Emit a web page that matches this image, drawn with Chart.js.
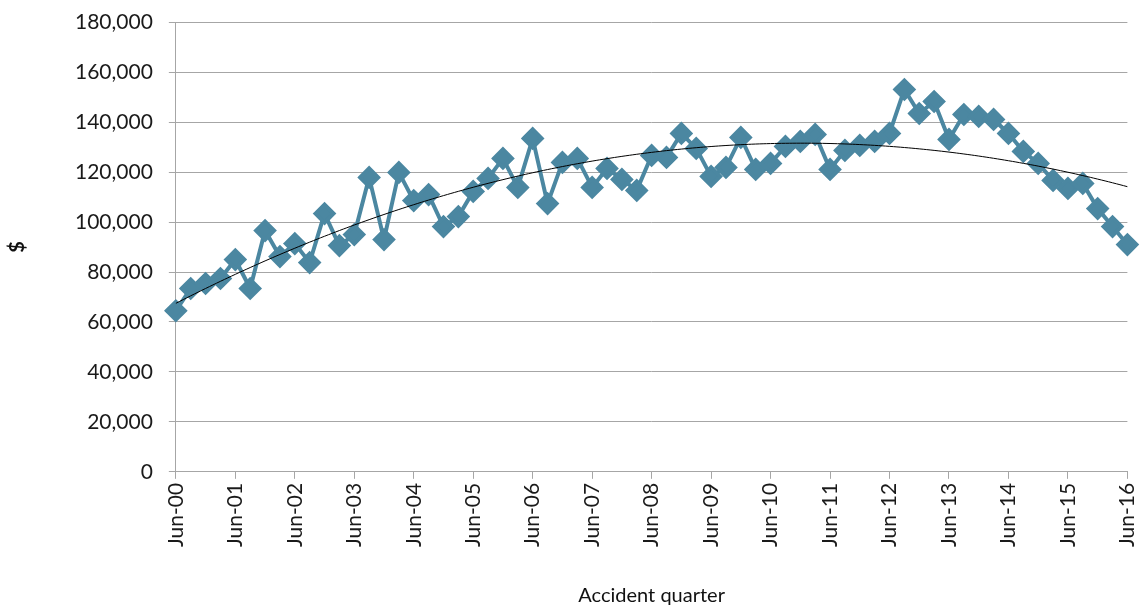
<!DOCTYPE html>
<html>
<head>
<meta charset="utf-8">
<script src="https://cdn.jsdelivr.net/npm/chart.js@4.4.0/dist/chart.umd.min.js"></script>
<style>
    html, body { margin: 0; padding: 0; background: #ffffff; }
    #wrap { width: 1144px; height: 610px; }
</style>
</head>
<body>
<div id="wrap"><canvas id="avg_claim"></canvas></div>
<script>
// quarters Jun-00 .. Jun-16
const quarters = [
    'Jun-00', 'Sep-00', 'Dec-00', 'Mar-01', 'Jun-01', 'Sep-01', 'Dec-01', 'Mar-02',
    'Jun-02', 'Sep-02', 'Dec-02', 'Mar-03', 'Jun-03', 'Sep-03', 'Dec-03', 'Mar-04',
    'Jun-04', 'Sep-04', 'Dec-04', 'Mar-05', 'Jun-05', 'Sep-05', 'Dec-05', 'Mar-06',
    'Jun-06', 'Sep-06', 'Dec-06', 'Mar-07', 'Jun-07', 'Sep-07', 'Dec-07', 'Mar-08',
    'Jun-08', 'Sep-08', 'Dec-08', 'Mar-09', 'Jun-09', 'Sep-09', 'Dec-09', 'Mar-10',
    'Jun-10', 'Sep-10', 'Dec-10', 'Mar-11', 'Jun-11', 'Sep-11', 'Dec-11', 'Mar-12',
    'Jun-12', 'Sep-12', 'Dec-12', 'Mar-13', 'Jun-13', 'Sep-13', 'Dec-13', 'Mar-14',
    'Jun-14', 'Sep-14', 'Dec-14', 'Mar-15', 'Jun-15', 'Sep-15', 'Dec-15', 'Mar-16',
    'Jun-16'
];

const avgCost = [
    64500, 73400, 75400, 77400, 85000, 73400, 96600, 86200,
    91400, 83800, 103400, 90600, 95000, 117900, 93000, 119900,
    108600, 111000, 98200, 102200, 112300, 117500, 125500, 113900,
    133500, 107400, 123900, 125500, 113900, 121500, 117100, 112700,
    126700, 125900, 135500, 129500, 118300, 121900, 133900, 121100,
    123500, 130300, 132300, 135100, 121100, 128700, 130700, 132300,
    135500, 153100, 143500, 148300, 133100, 143100, 142300, 141100,
    135500, 128300, 123500, 116700, 113500, 115500, 105400, 98200,
    91000
];

const yTicks = { min: 0, max: 180000, step: 20000 };

// 2nd order polynomial trend (least squares), like the spreadsheet trendline
function polyTrend(ys) {
    let n = ys.length, s = [0, 0, 0, 0, 0], t = [0, 0, 0];
    for (let i = 0; i < n; i++) {
        let x = i + 1;
        for (let k = 0; k < 5; k++) s[k] += Math.pow(x, k);
        for (let k = 0; k < 3; k++) t[k] += ys[i] * Math.pow(x, k);
    }
    let m = [[s[0], s[1], s[2], t[0]], [s[1], s[2], s[3], t[1]], [s[2], s[3], s[4], t[2]]];
    for (let c = 0; c < 3; c++) {
        for (let r = c + 1; r < 3; r++) {
            let f = m[r][c] / m[c][c];
            for (let k = c; k < 4; k++) m[r][k] -= f * m[c][k];
        }
    }
    let b = [0, 0, 0];
    for (let r = 2; r >= 0; r--) {
        let v = m[r][3];
        for (let k = r + 1; k < 3; k++) v -= m[r][k] * b[k];
        b[r] = v / m[r][r];
    }
    return ys.map((_, i) => b[0] + b[1] * (i + 1) + b[2] * (i + 1) * (i + 1));
}

const trend = polyTrend(avgCost);

const gridGrey = '#a6a6a6';
const fontFamily = 'Lato, "Noto Sans", sans-serif';

let avg_claim = document.getElementById('avg_claim').getContext('2d');
new Chart(avg_claim, {
    type: 'line',
    data: {
        labels: quarters,
        datasets: [
            {
                label: 'Trend',
                data: trend,
                borderColor: '#000000',
                borderWidth: 1,
                pointRadius: 0,
                tension: 0.4,
                order: 0,
            },
            {
                label: 'Average cost',
                data: avgCost,
                borderColor: '#4b87a1',
                backgroundColor: '#4b87a1',
                borderWidth: 4,
                pointStyle: 'rectRot',
                pointRadius: 9,
                pointHoverRadius: 9,
                tension: 0,
                order: 1,
            }
        ],
    },
    options: {
        animation: false,
        responsive: true,
        maintainAspectRatio: false,
        layout: {
            padding: { left: 6, right: 2, top: 6, bottom: 0 }
        },
        plugins: {
            legend: { display: false },
            tooltip: { enabled: false },
        },
        scales: {
            x: {
                offset: false,
                border: { color: gridGrey, width: 1 },
                grid: {
                    drawOnChartArea: false,
                    drawTicks: true,
                    tickLength: 7,
                    color: ctx => (ctx.index % 4 === 0 ? gridGrey : 'rgba(0,0,0,0)'),
                },
                ticks: {
                    autoSkip: false,
                    maxRotation: 90,
                    minRotation: 90,
                    padding: 4,
                    color: '#1a1a1a',
                    font: { family: fontFamily, size: 21, lineHeight: 0.6 },
                    callback: function (val, i) {
                        return i % 4 === 0 ? this.getLabelForValue(val) : '';
                    },
                },
                title: {
                    display: true,
                    text: 'Accident quarter',
                    color: '#111111',
                    font: { family: fontFamily, size: 20 },
                    padding: { top: 33, bottom: 2 },
                },
            },
            y: {
                min: yTicks.min,
                max: yTicks.max,
                border: { color: gridGrey, width: 1 },
                grid: {
                    color: gridGrey,
                    lineWidth: 1,
                    drawTicks: true,
                    tickLength: 7,
                },
                ticks: {
                    stepSize: yTicks.step,
                    padding: 16,
                    color: '#1a1a1a',
                    font: { family: fontFamily, size: 21, lineHeight: 0.6 },
                    callback: v => v.toLocaleString('en-US'),
                },
                title: {
                    display: true,
                    text: '$',
                    color: '#111111',
                    font: { family: fontFamily, size: 20, weight: 'bold' },
                    padding: { top: 0, bottom: 29 },
                },
            },
        },
    }
});
</script>
</body>
</html>
